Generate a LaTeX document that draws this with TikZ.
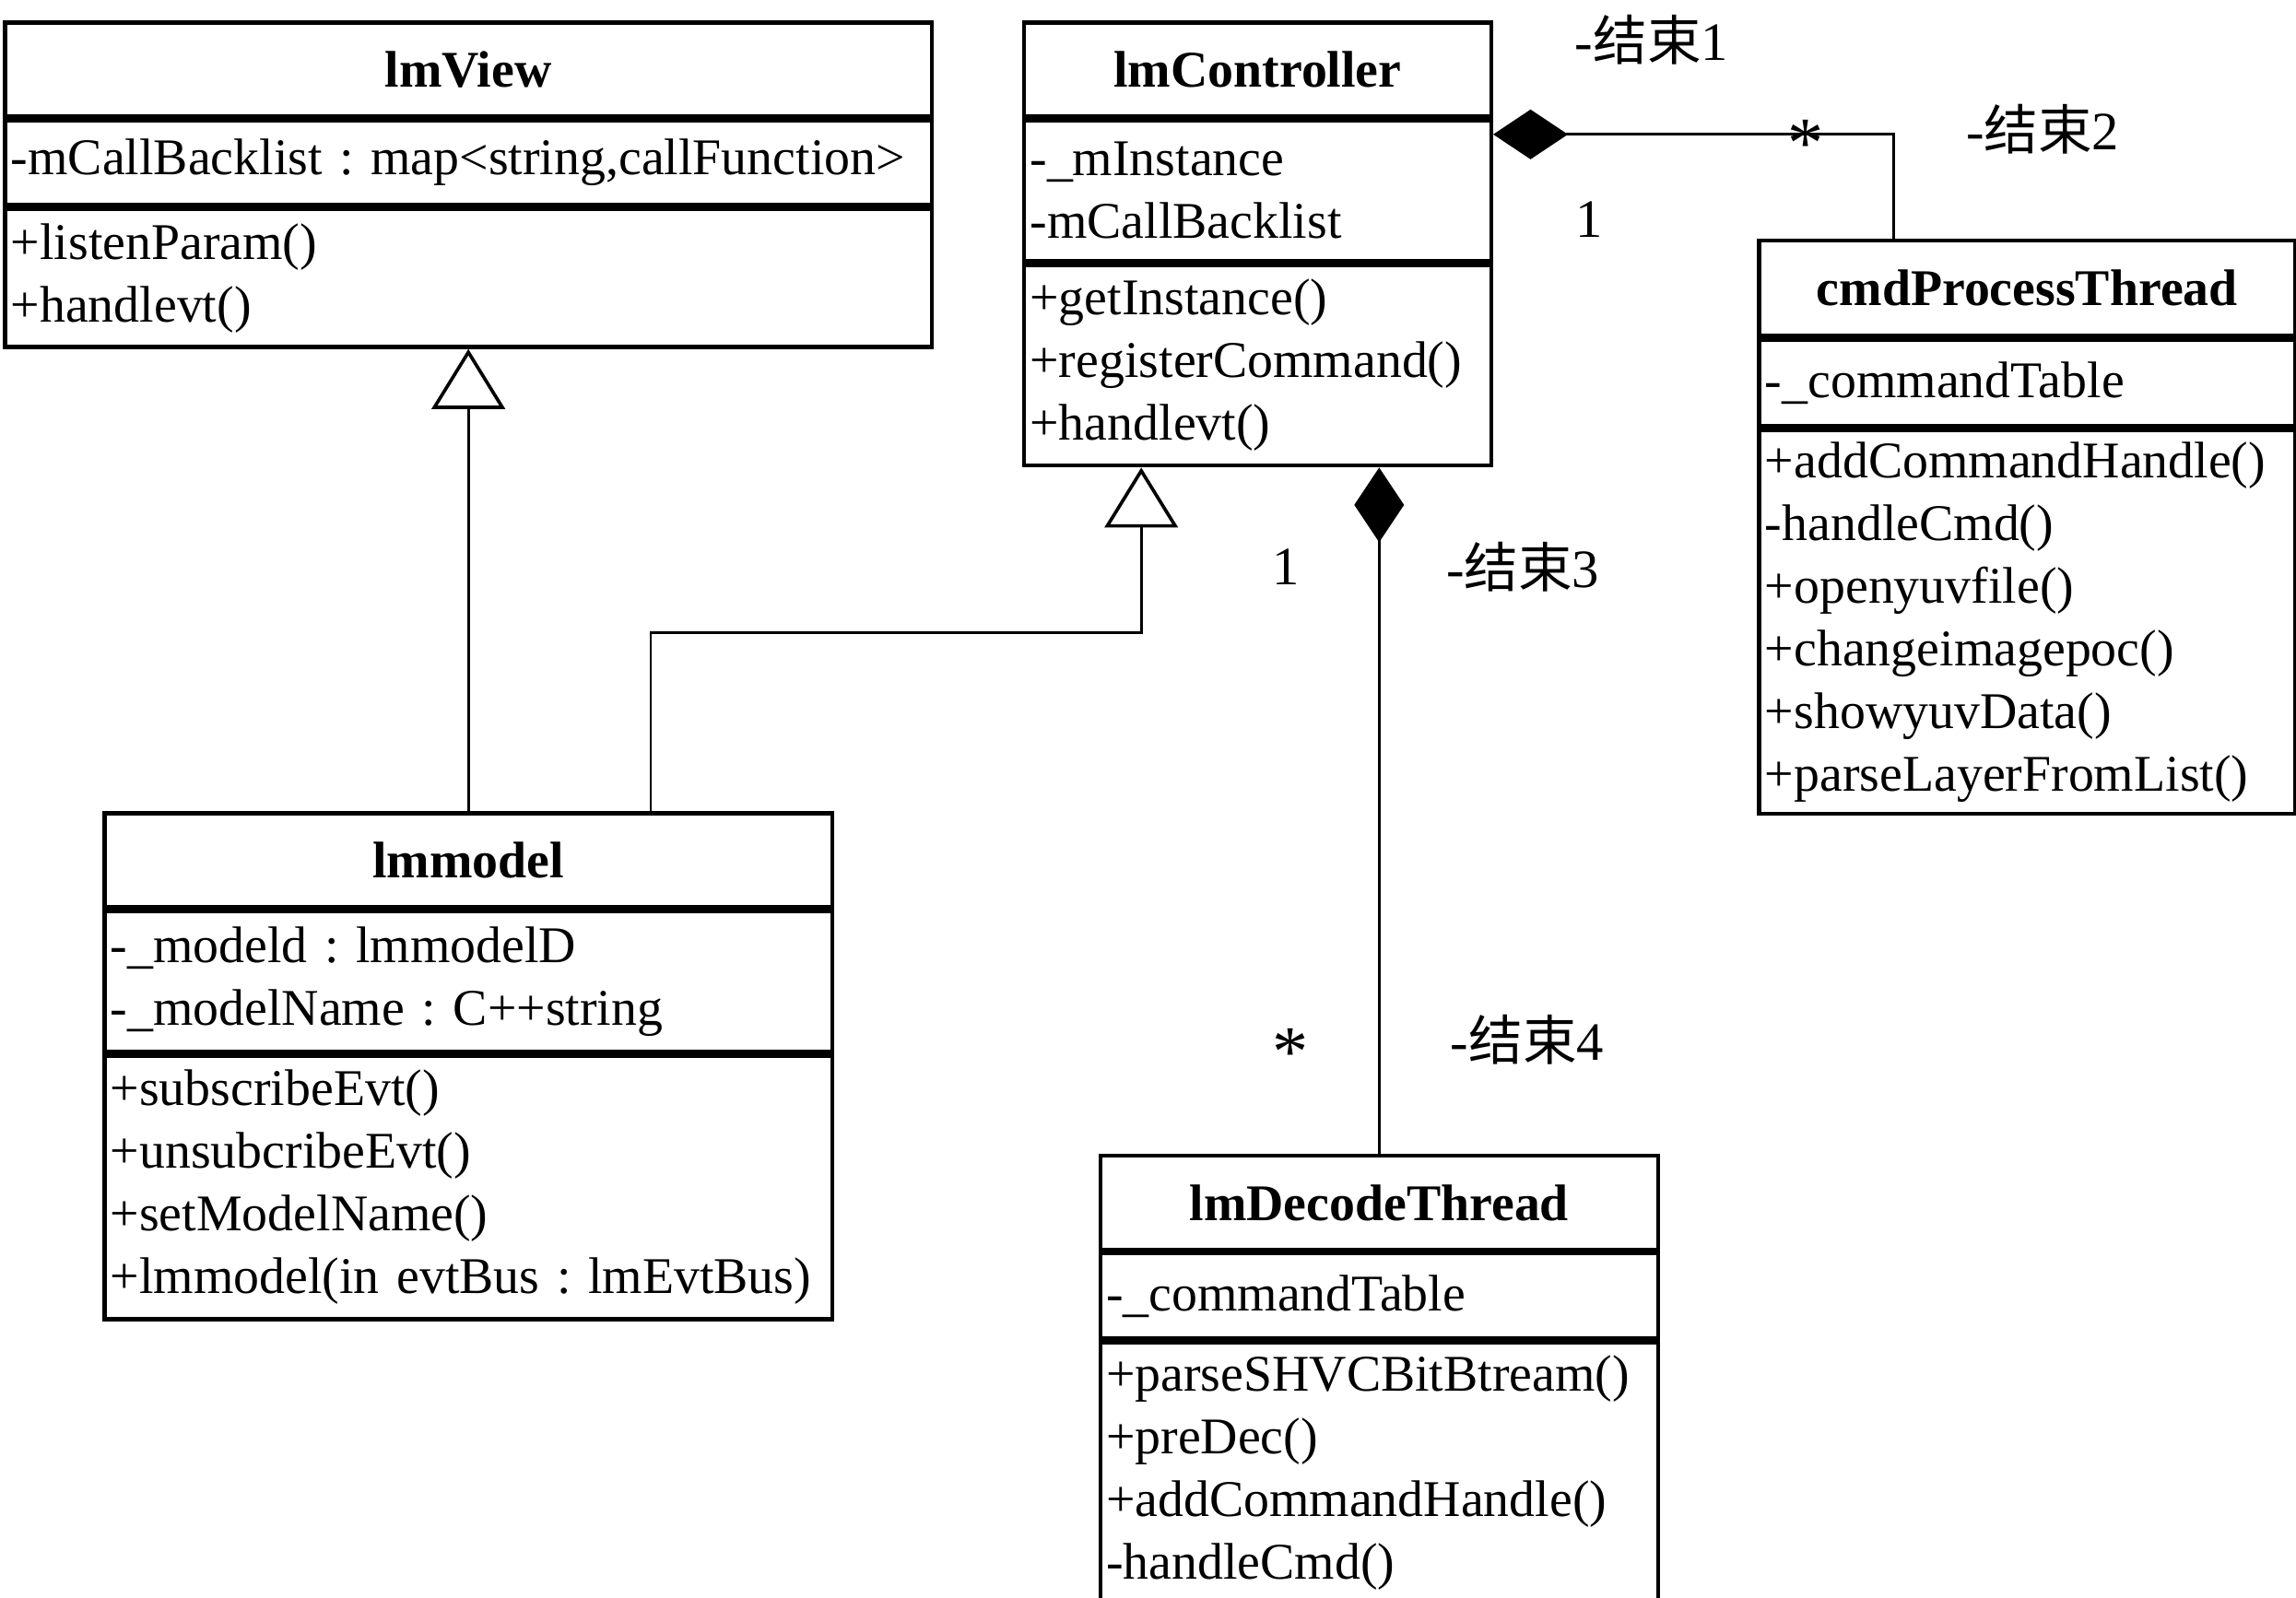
\documentclass[tikz,border=0pt]{standalone}
\usepackage{fontspec}
\setmainfont{Liberation Serif}
\newfontfamily\cjk{Noto Sans CJK SC}
\usetikzlibrary{arrows.meta, positioning, calc}
\frenchspacing

\begin{document}
\begin{tikzpicture}[x=0.02cm, y=-0.02cm,
  cls/.style={rectangle, draw, line width=1.6pt, minimum width=#1, minimum height=1.28cm, inner sep=0pt, font=\fontsize{20}{24}\selectfont\bfseries},
  mem/.style={rectangle, draw, line width=1.6pt, text width=#1, inner xsep=0.08cm, inner ysep=0pt, align=left, font=\fontsize{20}{24.4}\selectfont},
  inherit/.style={-{Triangle[open, length=0.82cm, width=1cm, line width=1.3pt]}, line width=1pt},
  compose/.style={{Diamond[length=1.02cm, width=0.68cm]}-, line width=1pt},
  lbl/.style={inner sep=0pt, font=\fontsize{21}{24}\selectfont},
  star/.style={inner sep=0pt, font=\fontsize{28}{30}\selectfont},
]
\useasboundingbox (0,0) rectangle (1568,1091);

% lmView
\node[cls=12.66cm, anchor=north west] (viewT) at (2,14) {lmView};
\node[mem=12.50cm, minimum height=1.16cm, below=0pt of viewT] (viewA) {-mCallBacklist : map<string,callFunction>};
\node[mem=12.50cm, minimum height=1.88cm, below=0pt of viewA] (viewM) {+listenParam()\\+handlevt()};

% lmController
\node[cls=6.38cm, anchor=north west] (ctrlT) at (698,14) {lmController};
\node[mem=6.22cm, minimum height=1.92cm, below=0pt of ctrlT] (ctrlA) {-\_mInstance\\-mCallBacklist};
\node[mem=6.22cm, minimum height=2.74cm, below=0pt of ctrlA] (ctrlM) {+getInstance()\\+registerCommand()\\+handlevt()};

% cmdProcessThread
\node[cls=7.32cm, minimum height=1.30cm, anchor=north west] (cmdT) at (1200,163) {cmdProcessThread};
\node[mem=7.16cm, minimum height=1.18cm, below=0pt of cmdT] (cmdA) {-\_commandTable};
\node[mem=7.16cm, minimum height=5.24cm, below=0pt of cmdA] (cmdM) {+addCommandHandle()\\-handleCmd()\\+openyuvfile()\\+changeimagepoc()\\+showyuvData()\\+parseLayerFromList()};

% lmmodel
\node[cls=9.94cm, anchor=north west] (modelT) at (70,554) {lmmodel};
\node[mem=9.78cm, minimum height=1.92cm, below=0pt of modelT] (modelA) {-\_modeld : lmmodelD\\-\_modelName : C++string};
\node[mem=9.78cm, minimum height=3.60cm, below=0pt of modelA] (modelM) {+subscribeEvt()\\+unsubcribeEvt()\\+setModelName()\\+lmmodel(in evtBus : lmEvtBus)};

% lmDecodeThread
\node[cls=7.62cm, anchor=north west] (decT) at (750,788) {lmDecodeThread};
\node[mem=7.46cm, minimum height=1.16cm, below=0pt of decT] (decA) {-\_commandTable};
\node[mem=7.46cm, minimum height=3.56cm, below=0pt of decA] (decM) {+parseSHVCBitBtream()\\+preDec()\\+addCommandHandle()\\-handleCmd()};

% Connectors
\draw[inherit] (modelT.north) -- (modelT.north |- viewM.south);
\draw[inherit] ([xshift=2.49cm]modelT.north) -- ++(0,-122) -| ([xshift=-1.59cm]ctrlM.south);
\draw[compose] ([yshift=-0.22cm]ctrlA.north east) -| ([xshift=-1.82cm]cmdT.north);
\draw[compose] (decT.north |- ctrlM.south) -- (decT.north);

% Ends
\node[lbl] (end1) at (1128,27) {-{\cjk 结束}1};
\node[lbl] (end2) at (1395,88) {-{\cjk 结束}2};
\node[lbl] (end3) at (1040,387) {-{\cjk 结束}3};
\node[lbl] (end4) at (1043,710) {-{\cjk 结束}4};
\node[star] (m1) at (1233,98) {*};
\node[lbl] (m2) at (1085,150) {1};
\node[lbl] (m3) at (878,387) {1};
\node[star] (m4) at (881,719) {*};
\end{tikzpicture}
\end{document}
